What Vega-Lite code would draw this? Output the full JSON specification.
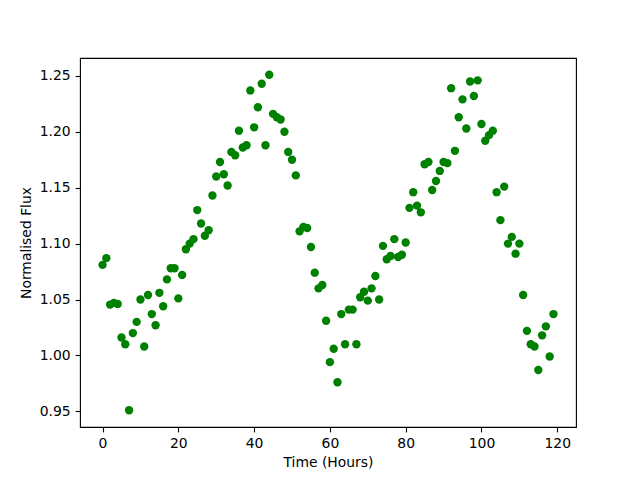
{
  "$schema": "https://vega.github.io/schema/vega-lite/v6.json",
  "width": 496,
  "height": 369,
  "autosize": {"type": "none"},
  "padding": {"left": 80, "top": 58, "right": 64, "bottom": 53},
  "background": "white",
  "config": {
    "font": "DejaVu Sans",
    "view": {"stroke": "black", "strokeWidth": 1.1},
    "axis": {
      "grid": false,
      "domain": false,
      "tickColor": "black",
      "tickSize": 4.9,
      "tickWidth": 1.1,
      "labelColor": "black",
      "labelFont": "DejaVu Sans",
      "labelFontSize": 13.9,
      "labelPadding": 4.9,
      "titleColor": "black",
      "titleFont": "DejaVu Sans",
      "titleFontSize": 13.9,
      "titleFontWeight": "normal"
    }
  },
  "data": {
    "values": [
      {"t": 0, "f": 1.081}, {"t": 1, "f": 1.087}, {"t": 2, "f": 1.0455}, {"t": 3, "f": 1.047}, {"t": 4, "f": 1.046},
      {"t": 5, "f": 1.016}, {"t": 6, "f": 1.010}, {"t": 7, "f": 0.951}, {"t": 8, "f": 1.020}, {"t": 9, "f": 1.030},
      {"t": 10, "f": 1.050}, {"t": 11, "f": 1.008}, {"t": 12, "f": 1.054}, {"t": 13, "f": 1.037}, {"t": 14, "f": 1.027},
      {"t": 15, "f": 1.056}, {"t": 16, "f": 1.044}, {"t": 17, "f": 1.068}, {"t": 18, "f": 1.078}, {"t": 19, "f": 1.078},
      {"t": 20, "f": 1.051}, {"t": 21, "f": 1.072}, {"t": 22, "f": 1.095}, {"t": 23, "f": 1.100}, {"t": 24, "f": 1.104},
      {"t": 25, "f": 1.130}, {"t": 26, "f": 1.118}, {"t": 27, "f": 1.107}, {"t": 28, "f": 1.112}, {"t": 29, "f": 1.143},
      {"t": 30, "f": 1.160}, {"t": 31, "f": 1.173}, {"t": 32, "f": 1.162}, {"t": 33, "f": 1.152}, {"t": 34, "f": 1.182},
      {"t": 35, "f": 1.179}, {"t": 36, "f": 1.201}, {"t": 37, "f": 1.186}, {"t": 38, "f": 1.188}, {"t": 39, "f": 1.237},
      {"t": 40, "f": 1.204}, {"t": 41, "f": 1.222}, {"t": 42, "f": 1.243}, {"t": 43, "f": 1.188}, {"t": 44, "f": 1.251},
      {"t": 45, "f": 1.216}, {"t": 46, "f": 1.213}, {"t": 47, "f": 1.211}, {"t": 48, "f": 1.200}, {"t": 49, "f": 1.182},
      {"t": 50, "f": 1.175}, {"t": 51, "f": 1.161}, {"t": 52, "f": 1.111}, {"t": 53, "f": 1.115}, {"t": 54, "f": 1.114},
      {"t": 55, "f": 1.097}, {"t": 56, "f": 1.074}, {"t": 57, "f": 1.060}, {"t": 58, "f": 1.063}, {"t": 59, "f": 1.031},
      {"t": 60, "f": 0.994}, {"t": 61, "f": 1.006}, {"t": 62, "f": 0.976}, {"t": 63, "f": 1.037}, {"t": 64, "f": 1.010},
      {"t": 65, "f": 1.041}, {"t": 66, "f": 1.041}, {"t": 67, "f": 1.010}, {"t": 68, "f": 1.052}, {"t": 69, "f": 1.057},
      {"t": 70, "f": 1.049}, {"t": 71, "f": 1.060}, {"t": 72, "f": 1.071}, {"t": 73, "f": 1.050}, {"t": 74, "f": 1.098},
      {"t": 75, "f": 1.086}, {"t": 76, "f": 1.089}, {"t": 77, "f": 1.104}, {"t": 78, "f": 1.088}, {"t": 79, "f": 1.090},
      {"t": 80, "f": 1.101}, {"t": 81, "f": 1.132}, {"t": 82, "f": 1.146}, {"t": 83, "f": 1.134}, {"t": 84, "f": 1.128},
      {"t": 85, "f": 1.171}, {"t": 86, "f": 1.173}, {"t": 87, "f": 1.148}, {"t": 88, "f": 1.156}, {"t": 89, "f": 1.165},
      {"t": 90, "f": 1.173}, {"t": 91, "f": 1.172}, {"t": 92, "f": 1.239}, {"t": 93, "f": 1.183}, {"t": 94, "f": 1.213},
      {"t": 95, "f": 1.229}, {"t": 96, "f": 1.203}, {"t": 97, "f": 1.245}, {"t": 98, "f": 1.232}, {"t": 99, "f": 1.246},
      {"t": 100, "f": 1.207}, {"t": 101, "f": 1.192}, {"t": 102, "f": 1.197}, {"t": 103, "f": 1.201}, {"t": 104, "f": 1.146},
      {"t": 105, "f": 1.121}, {"t": 106, "f": 1.151}, {"t": 107, "f": 1.100}, {"t": 108, "f": 1.106}, {"t": 109, "f": 1.091},
      {"t": 110, "f": 1.100}, {"t": 111, "f": 1.054}, {"t": 112, "f": 1.022}, {"t": 113, "f": 1.010}, {"t": 114, "f": 1.008},
      {"t": 115, "f": 0.987}, {"t": 116, "f": 1.018}, {"t": 117, "f": 1.026}, {"t": 118, "f": 0.999}, {"t": 119, "f": 1.037}
    ]
  },
  "mark": {"type": "point", "filled": true, "opacity": 1, "size": 70, "color": "#008000"},
  "encoding": {
    "x": {
      "field": "t",
      "type": "quantitative",
      "title": "Time (Hours)",
      "scale": {"domain": [-5.95, 124.95], "nice": false, "zero": false},
      "axis": {"values": [0, 20, 40, 60, 80, 100, 120], "titlePadding": 5}
    },
    "y": {
      "field": "f",
      "type": "quantitative",
      "title": "Normalised Flux",
      "scale": {"domain": [0.936, 1.266], "nice": false, "zero": false},
      "axis": {"values": [0.95, 1.0, 1.05, 1.1, 1.15, 1.2, 1.25], "format": ".2f", "titlePadding": 6}
    }
  }
}
